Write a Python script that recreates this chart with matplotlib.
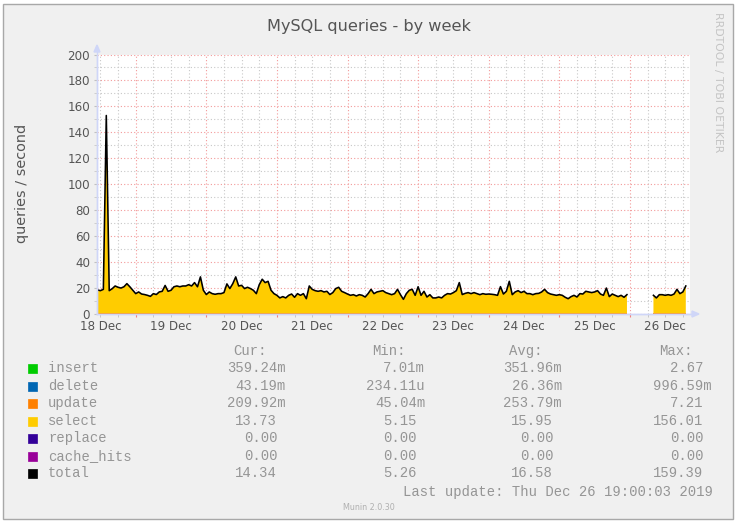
import numpy as np
import matplotlib
matplotlib.use("Agg")
import matplotlib.pyplot as plt
from matplotlib.ticker import MultipleLocator
from matplotlib.patches import Rectangle, Polygon
from matplotlib.lines import Line2D

# ---------------- data ----------------
# hours since 18 Dec 00:00 (hourly samples)
hours = list(range(11, 212))
nan = float("nan")
total = [
    18.5, 18, 19, 153, 18, 19.5, 21.6, 20.6, 20, 21,          # h11-20
    23.4, 21, 18.3, 15.7, 17, 15.4, 15, 14.4, 13.6, 15.7,     # h21-30
    15, 17, 17.5, 22, 17.5, 18.3, 21, 21.6, 21, 21.6,         # h31-40
    21.6, 22.6, 21.6, 24.2, 21, 28.6, 18.3, 15, 17, 15.7,     # h41-50
    15.2, 15.7, 15.7, 16.5, 23.2, 19.6, 23.4, 28.6, 21.6, 22.1,
    19.6, 20.6, 19.6, 18.3, 15.7, 22.6, 26.8, 24.2, 25.2, 18.3,
    15.7, 14.4, 12.4, 13.4, 12.4, 14.4, 15.4, 12.9, 15.7, 14.4,
    15.7, 11.8, 21.6, 19, 18, 17.5, 18, 17, 17.5, 15,
    16.5, 19.6, 20.6, 17.5, 16.5, 15.4, 14.4, 14.9, 13.9, 14.9,
    14.4, 13.1, 15.7, 19, 15.7, 17, 17.5, 18, 16.5, 15.7,
    14.9, 15.7, 19, 14.9, 11.3, 15.7, 18.3, 19, 14.4, 21,
    14.4, 17.5, 13.1, 14.9, 12.4, 12.4, 13.1, 12.4, 14.4, 15.7,
    15.4, 16.5, 18, 24.2, 15, 15.9, 16.5, 15.7, 16.5, 15.7,
    14.9, 15.7, 15.2, 15.4, 15.2, 14.9, 14.4, 21.1, 15.4, 17.5,
    25.2, 14.9, 17, 18, 16.5, 17.5, 15.7, 15.7, 14.9, 15.7,
    15.9, 17, 19, 16.5, 15.4, 14.9, 14.4, 14.9, 14.4, 12.9,
    11.8, 13.4, 14.4, 13.1, 15.7, 15.4, 17.5, 17, 16.5, 17,
    18, 15.4, 14.4, 20, 13.4, 15.4, 14.4, 13.4, 14.4, 12.9,
    14.9, nan, nan, nan, nan, nan, nan, nan, nan, 14.4,       # h191-200
    12.4, 14.9, 14.9, 14.4, 14.9, 14.4, 15.4, 19, 15.7, 17,   # h201-210
    21.6,                                                     # h211
]
# small stacked series (average rates from legend)
insert_avg = 0.352
delete_avg = 0.026
update_avg = 0.254

series_names = ["insert", "delete", "update", "select", "replace", "cache_hits", "total"]
series_colors = ["#00CC00", "#0066B3", "#FF8000", "#FFCC00", "#330099", "#990099", "#000000"]
cur_vals = ["359.24m", "43.19m", "209.92m", "13.73", "0.00", "0.00", "14.34"]
min_vals = ["7.01m", "234.11u", "45.04m", "5.15", "0.00", "0.00", "5.26"]
avg_vals = ["351.96m", "26.36m", "253.79m", "15.95", "0.00", "0.00", "16.58"]
max_vals = ["2.67", "996.59m", "7.21", "156.01", "0.00", "0.00", "159.39"]

day_labels = ["18 Dec", "19 Dec", "20 Dec", "21 Dec", "22 Dec", "23 Dec", "24 Dec", "25 Dec", "26 Dec"]
view_start, view_end = 10.84, 212.43   # hours since 18 Dec 00:00

# ---------------- figure ----------------
W, H = 738, 523
fig = plt.figure(figsize=(W / 100, H / 100), dpi=100)
fig.patch.set_facecolor("white")

def fx(x):
    return x / W

def fy(y):
    return 1 - y / H

fig.patches.append(Rectangle((fx(3), fy(519)), fx(730), 515 / H, transform=fig.transFigure,
                             facecolor="#F0F0F0", edgecolor="#A8A8A8", lw=1.0, zorder=-5))

ax = fig.add_axes([fx(97), fy(314), (690 - 97) / W, (314 - 54.5) / H])
ax.set_zorder(2)
ax.set_facecolor("white")

t = np.array(hours, dtype=float)
tot = np.array(total, dtype=float)
b1 = np.where(np.isnan(tot), np.nan, insert_avg)
b2 = b1 + delete_avg
b3 = b2 + update_avg
ax.fill_between(t, 0, b1, color=series_colors[0], lw=0, zorder=2)
ax.fill_between(t, b1, b2, color=series_colors[1], lw=0, zorder=2)
ax.fill_between(t, b2, b3, color=series_colors[2], lw=0, zorder=2)
ax.fill_between(t, b3, tot, color=series_colors[3], lw=0, zorder=2)
ax.plot(t, tot, color="black", lw=1.15, zorder=3)

ax.set_xlim(view_start, view_end)
ax.set_ylim(0, 200)

ax.xaxis.set_major_locator(MultipleLocator(24))
ax.xaxis.set_minor_locator(MultipleLocator(6))
ax.yaxis.set_major_locator(MultipleLocator(20))
ax.yaxis.set_minor_locator(MultipleLocator(10))
ax.grid(which="minor", color="#C8C8C8", ls=(0, (1, 2)), lw=0.8, zorder=1)
ax.grid(which="major", color="#F39A9A", ls=(0, (1, 2)), lw=0.8, zorder=1)
ax.set_axisbelow(True)

ax.tick_params(axis="x", which="both", labelbottom=False, length=2, direction="out")
ax.tick_params(axis="x", which="major", color="#F08080")
ax.tick_params(axis="x", which="minor", color="#C0C0C0")
ax.tick_params(axis="y", which="major", length=2, pad=3, color="#C0C0C0",
               labelsize=8.6, labelcolor="#555555")
ax.tick_params(axis="y", which="minor", length=2, color="#C8C8C8")

for s in ["top", "right"]:
    ax.spines[s].set_visible(False)
for s in ["left", "bottom"]:
    ax.spines[s].set_color("#CFD6F8")
    ax.spines[s].set_linewidth(1.0)

# axis extensions and arrows
fig.lines.append(Line2D([fx(97), fx(97)], [fy(314), fy(50)], transform=fig.transFigure,
                        color="#CFD6F8", lw=1.0, zorder=3))
fig.lines.append(Line2D([fx(97), fx(694)], [fy(314), fy(314)], transform=fig.transFigure,
                        color="#CFD6F8", lw=1.0, zorder=3))
fig.patches.append(Polygon([[fx(94), fy(52)], [fx(100), fy(52)], [fx(97), fy(45)]],
                           closed=True, transform=fig.transFigure, color="#CFD6F8", zorder=3))
fig.patches.append(Polygon([[fx(692), fy(311)], [fx(692), fy(317)], [fx(699), fy(314)]],
                           closed=True, transform=fig.transFigure, color="#CFD6F8", zorder=3))

# day labels at noon
for i, lab in enumerate(day_labels):
    ax.text(12 + 24 * i, -5.0, lab, ha="center", va="top", fontsize=8.6,
            color="#555555", transform=ax.transData, clip_on=False)

# titles
fig.text(fx(369), fy(27), "MySQL queries - by week", ha="center", va="center",
         fontsize=11.6, color="#555555")
fig.text(fx(22), fy(183), "queries / second", rotation=90, ha="center", va="center",
         fontsize=10.4, color="#555555")
fig.text(fx(718), fy(12), "RRDTOOL / TOBI OETIKER", rotation=270, ha="center", va="top",
         fontsize=7.8, color="#C4C4C4")

# legend
mono = "Liberation Mono"
lfs = 10.0
lcol = "#959595"
cw = 8.8
col_ends = [286, 425, 562, 712]
headers = ["Cur:", "Min:", "Avg:", "Max:"]
for hdr, ce in zip(headers, col_ends):
    fig.text(fx(ce - 6 * cw), fy(351), hdr, ha="left", va="center", family=mono,
             fontsize=lfs, color=lcol)

row_y = [368, 386, 403, 421, 438, 456, 473]
for i, name in enumerate(series_names):
    y = row_y[i]
    fig.patches.append(Rectangle((fx(28), fy(y + 4.5)), 9 / W, 9 / H, transform=fig.transFigure,
                                 facecolor=series_colors[i], edgecolor=series_colors[i], lw=0.5))
    fig.text(fx(48), fy(y), name, ha="left", va="center", family=mono, fontsize=lfs, color=lcol)
    for vals, ce in zip([cur_vals, min_vals, avg_vals, max_vals], col_ends):
        v = vals[i]
        right = ce if v[-1].isalpha() else ce - cw
        fig.text(fx(right), fy(y), v, ha="right", va="center", family=mono,
                 fontsize=lfs, color=lcol)

fig.text(fx(713), fy(492), "Last update: Thu Dec 26 19:00:03 2019", ha="right", va="center",
         family=mono, fontsize=lfs, color=lcol)
fig.text(fx(369), fy(507), "Munin 2.0.30", ha="center", va="center", fontsize=5.8,
         color="#B0B0B0")

fig.savefig("out.png", dpi=100, facecolor=fig.get_facecolor())
